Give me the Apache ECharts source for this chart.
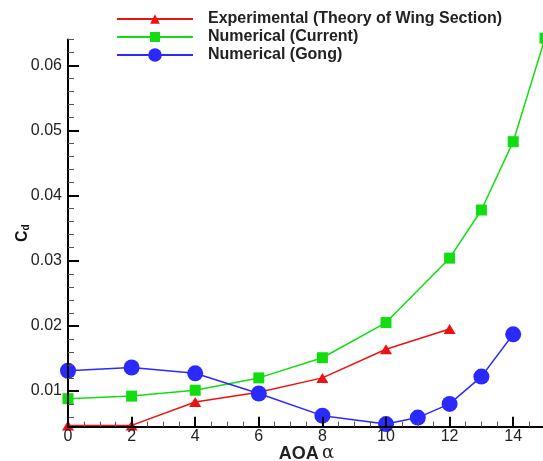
<!DOCTYPE html>
<html>
<head>
<meta charset="utf-8">
<script src="https://cdn.jsdelivr.net/npm/echarts@6/dist/echarts.min.js"></script>
<style>
html,body{margin:0;padding:0;background:#fff;}
#chart{width:543px;height:461px;}
</style>
</head>
<body>
<div id="chart"></div>
<script>
// ---- data ----
const seriesNames = ['Experimental (Theory of Wing Section)', 'Numerical (Current)', 'Numerical (Gong)'];
const aoaExp = [0, 2, 4, 6, 8, 10, 12];
const cdExp = [0.0047, 0.0047, 0.0083, 0.0098, 0.0120, 0.0164, 0.0195];
const aoaCur = [0, 2, 4, 6, 8, 10, 12, 13, 14, 15];
const cdCur = [0.0088, 0.0092, 0.0101, 0.0120, 0.0151, 0.0205, 0.0304, 0.0378, 0.0483, 0.0642];
const aoaGong = [0, 2, 4, 6, 8, 10, 11, 12, 13, 14];
const cdGong = [0.0131, 0.0136, 0.0127, 0.0096, 0.0062, 0.0049, 0.0059, 0.0080, 0.0122, 0.0187];
const xTickLabels = [0, 2, 4, 6, 8, 10, 12, 14];
const yTickLabels = [0.01, 0.02, 0.03, 0.04, 0.05, 0.06];
const xRange = [0, 15];
const yRange = [0.0045, 0.064];

// minor tick positions
const xMinor = [];
for (let i = 1; i < 30; i++) { if (i % 4 !== 0) xMinor.push(i * 0.5); }
const yMinor = [];
for (let i = 3; i <= 32; i++) { if (i % 5 !== 0) yMinor.push(+(i * 0.002).toFixed(3)); }

const FONT = 'Liberation Sans, Arial, sans-serif';
const colors = ['#ee1111', '#11dd11', '#2a2aff'];

const pairs = (xs, ys) => xs.map((x, i) => [x, ys[i]]);

const chart = echarts.init(document.getElementById('chart'), null, {renderer: 'canvas'});

function legendFor(i, top, itemHeight) {
  return {
    data: [seriesNames[i]],
    left: 116,
    top: top,
    padding: 0,
    itemWidth: 76,
    itemHeight: itemHeight,
    selectedMode: false,
    textStyle: {fontFamily: FONT, fontSize: 16, fontWeight: 'bold', color: '#222', padding: [0, 0, 0, 10]}
  };
}

const option = {
  animation: false,
  backgroundColor: '#fff',
  grid: {left: 68, right: -2, top: 39.5, bottom: 34.3, containLabel: false, outerBoundsMode: 'none'},
  legend: [legendFor(0, 11, 12), legendFor(1, 29, 12.5), legendFor(2, 47, 17)],
  xAxis: [
    {
      type: 'value', min: xRange[0], max: xRange[1], position: 'bottom', z: 5,
      axisLine: {show: true, onZero: false, lineStyle: {color: '#000', width: 2}},
      axisTick: {show: true, inside: true, length: 10, customValues: xTickLabels, lineStyle: {color: '#000', width: 2}},
      axisLabel: {customValues: xTickLabels, fontFamily: FONT, fontSize: 16, color: '#222', margin: 2},
      splitLine: {show: false},
      name: '{a|AOA} {b|α}', nameLocation: 'middle', nameGap: 18, nameMoveOverlap: false,
      nameTextStyle: {rich: {
        a: {fontFamily: FONT, fontSize: 18, fontWeight: 'bold', color: '#222'},
        b: {fontFamily: 'DejaVu Serif', fontSize: 18, color: '#222'}
      }}
    },
    {
      type: 'value', min: xRange[0], max: xRange[1], position: 'bottom', z: 5,
      axisLine: {show: false},
      axisTick: {show: true, inside: true, length: 5, customValues: xMinor, lineStyle: {color: '#555', width: 1}},
      axisLabel: {show: false},
      splitLine: {show: false}
    }
  ],
  yAxis: [
    {
      type: 'value', min: yRange[0], max: yRange[1], position: 'left', z: 5,
      axisLine: {show: true, onZero: false, lineStyle: {color: '#000', width: 2}},
      axisTick: {show: true, inside: true, length: 11, customValues: yTickLabels, lineStyle: {color: '#000', width: 2}},
      axisLabel: {customValues: yTickLabels, formatter: v => v.toFixed(2), fontFamily: FONT, fontSize: 16, color: '#222', margin: 6},
      splitLine: {show: false},
      name: '{a|C}{b|d}', nameLocation: 'middle', nameGap: 37, nameMoveOverlap: false,
      nameTextStyle: {rich: {
        a: {fontFamily: FONT, fontSize: 16, fontWeight: 'bold', color: '#111'},
        b: {fontFamily: FONT, fontSize: 10, fontWeight: 'bold', color: '#111', padding: [6, 0, 0, 0]}
      }}
    },
    {
      type: 'value', min: yRange[0], max: yRange[1], position: 'left', z: 5,
      axisLine: {show: false},
      axisTick: {show: true, inside: true, length: 6, customValues: yMinor, lineStyle: {color: '#555', width: 1}},
      axisLabel: {show: false},
      splitLine: {show: false}
    }
  ],
  series: [
    {
      name: seriesNames[0], type: 'line', data: pairs(aoaExp, cdExp),
      symbol: 'triangle', symbolSize: [12, 10], clip: false,
      lineStyle: {color: colors[0], width: 1.5},
      itemStyle: {color: colors[0], borderWidth: 0}
    },
    {
      name: seriesNames[1], type: 'line', data: pairs(aoaCur, cdCur),
      symbol: 'rect', symbolSize: 11, clip: false,
      lineStyle: {color: colors[1], width: 1.5},
      itemStyle: {color: colors[1], borderWidth: 0}
    },
    {
      name: seriesNames[2], type: 'line', data: pairs(aoaGong, cdGong),
      symbol: 'circle', symbolSize: 16, clip: false,
      lineStyle: {color: colors[2], width: 1.5},
      itemStyle: {color: colors[2], borderWidth: 0}
    }
  ]
};
chart.setOption(option);
</script>
</body>
</html>
